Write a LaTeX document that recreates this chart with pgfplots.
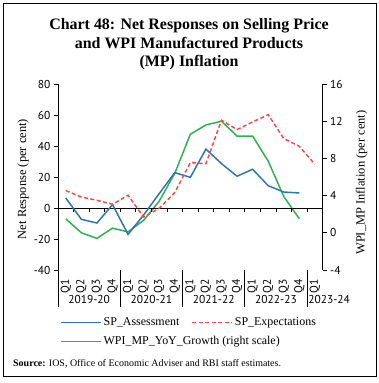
\documentclass[border=0pt]{standalone}
\usepackage{fontspec}
\setmainfont{Liberation Serif}
\newfontfamily\ticksf{PT Sans}
\usepackage{pgfplots}
\pgfplotsset{compat=1.18}
\definecolor{cblue}{HTML}{2E75B6}
\definecolor{cred}{HTML}{FF4545}
\definecolor{cgreen}{HTML}{2DB34E}
\pgfplotsset{
  common/.style={
    at={(58bp,113bp)}, anchor=south west, scale only axis,
    width=264.7bp, height=186bp, xmin=-0.5, xmax=16.5,
    tick align=outside, major tick length=4bp,
    axis line style={line width=0.8pt, black},
    tick style={line width=0.8pt, black},
    y tick label style={font=\ticksf\fontsize{11.5}{13}\selectfont},
    /pgf/number format/assume math mode=true,
    clip=false,
    legend cell align=left,
    legend image code/.code={\draw[#1] (0cm,0cm) -- (1.411cm,0cm);},
  }
}
\begin{document}
\begin{tikzpicture}
\useasboundingbox (0bp,0bp) rectangle (379bp,383bp);
\draw[line width=1bp] (3.5bp,6bp) rectangle (376bp,379bp);
\node[font=\fontsize{16}{18}\selectfont\bfseries, anchor=base] at (189bp,353.7bp) {Chart 48: Net Responses on Selling Price};
\node[font=\fontsize{16}{18}\selectfont\bfseries, anchor=base] at (189bp,334.7bp) {and WPI Manufactured Products};
\node[font=\fontsize{16}{18}\selectfont\bfseries, anchor=base] at (189bp,316.3bp) {(MP) Inflation};
\node[font=\fontsize{10}{12}\selectfont, anchor=base west, inner sep=0pt] at (13bp,16.3bp) {\textbf{Source:} IOS, Office of Economic Adviser and RBI staff estimates.};

% right axis
\begin{axis}[common,
  ymin=-4, ymax=16, ytick={-4,0,4,8,12,16},
  axis x line=none, axis y line*=right,
  ylabel={WPI\_MP Inflation (per cent)},
  ylabel style={at={(axis description cs:1.147,0.47)}, anchor=center, font=\fontsize{12.5}{14}\selectfont},
  legend style={at={(axis description cs:0,0)}, anchor=north west, xshift=2bp, yshift=-64.5bp,
    draw=none, fill=none, inner sep=0pt, font=\fontsize{12}{14}\selectfont},
]
\addplot[cgreen, line width=1.5pt] coordinates {
(0,1.5) (1,0) (2,-0.6) (3,0.5) (4,0.1) (5,1.35) (6,3.4) (7,6.4) (8,10.6) (9,11.6) (10,12.0) (11,10.4) (12,10.4) (13,7.7) (14,3.9) (15,1.5)};
\addlegendentry{WPI\_MP\_YoY\_Growth (right scale)}
\end{axis}

% left axis
\begin{axis}[common,
  ymin=-40, ymax=80, ytick={-40,-20,0,20,40,60,80},
  axis y line*=left, axis x line*=bottom,
  x axis line style={draw=none},
  xtick={0,...,16},
  xticklabels={Q1,Q2,Q3,Q4,Q1,Q2,Q3,Q4,Q1,Q2,Q3,Q4,Q1,Q2,Q3,Q4,Q1},
  xtick style={draw=none},
  x tick label style={rotate=90, anchor=east, xshift=-1.5bp, font=\ticksf\fontsize{11.5}{13}\selectfont},
  ylabel={Net Response (per cent)},
  ylabel style={at={(axis description cs:-0.132,0.489)}, anchor=center, font=\fontsize{12.5}{14}\selectfont},
  legend columns=2,
  legend style={at={(axis description cs:0,0)}, anchor=north west, xshift=2bp, yshift=-45.5bp,
    draw=none, fill=none, inner sep=0pt, font=\fontsize{12}{14}\selectfont,
    /tikz/every even column/.append style={column sep=10bp}},
]
\draw[line width=0.8pt] (axis cs:-0.5,0) -- (axis cs:16.5,0);
\pgfplotsinvokeforeach{0.5,1.5,2.5,3.5,4.5,5.5,6.5,7.5,8.5,9.5,10.5,11.5,12.5,13.5,14.5,15.5}{
  \draw[line width=0.8pt] (axis cs:#1,0) -- ([yshift=-4bp]axis cs:#1,0);
}
\pgfplotsinvokeforeach{-0.5,3.5,7.5,11.5,15.5}{
  \draw[line width=0.8pt] (axis cs:#1,-40) -- ([yshift=-37bp]axis cs:#1,-40);
}
\node[anchor=base, font=\ticksf\fontsize{11.5}{13}\selectfont] at ([yshift=-33.3bp]axis cs:1.5,-40) {2019-20};
\node[anchor=base, font=\ticksf\fontsize{11.5}{13}\selectfont] at ([yshift=-33.3bp]axis cs:5.5,-40) {2020-21};
\node[anchor=base, font=\ticksf\fontsize{11.5}{13}\selectfont] at ([yshift=-33.3bp]axis cs:9.5,-40) {2021-22};
\node[anchor=base, font=\ticksf\fontsize{11.5}{13}\selectfont] at ([yshift=-33.3bp]axis cs:13.5,-40) {2022-23};
\node[anchor=base west, inner sep=1bp, font=\ticksf\fontsize{11.5}{13}\selectfont] at ([yshift=-33.3bp]axis cs:15.5,-40) {2023-24};
\addplot[cblue, line width=1.5pt] coordinates {
(0,6.5) (1,-7.3) (2,-9.7) (3,2.2) (4,-17) (5,-4.5) (6,9.3) (7,22.8) (8,19.8) (9,38) (10,28.6) (11,20.5) (12,25) (13,14.4) (14,10.3) (15,9.7)};
\addlegendentry{SP\_Assessment}
\addplot[cred, line width=1.5pt, dash pattern=on 4bp off 2.5bp] coordinates {
(0,11.2) (1,7.1) (2,5) (3,2.4) (4,8.2) (5,-5.8) (6,-0.2) (7,10) (8,29.3) (9,28.6) (10,56.6) (11,50.6) (12,55.5) (13,60.2) (14,44.8) (15,39.8) (16,28.2)};
\addlegendentry{SP\_Expectations}
\end{axis}
\end{tikzpicture}
\end{document}
